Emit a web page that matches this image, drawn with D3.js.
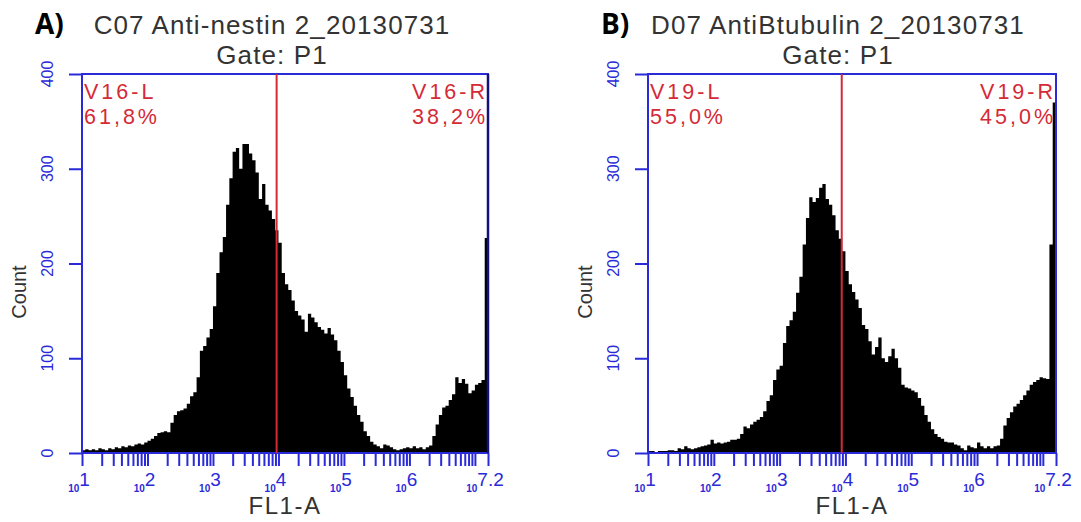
<!DOCTYPE html>
<html>
<head>
<meta charset="utf-8">
<script src="https://cdn.jsdelivr.net/npm/d3@7"></script>
<style>
  body { margin: 0; background: #fff; }
  svg { display: block; }
</style>
</head>
<body>
<svg id="chart" width="1081" height="522"></svg>
<script>
// ---- data ---------------------------------------------------------------
const panelKeys = ["A)", "B)"];
const sampleTitles = ["C07 Anti-nestin 2_20130731", "D07 AntiBtubulin 2_20130731"];
const gateTitle = "Gate: P1";
const gateNames = [["V16-L", "V16-R"], ["V19-L", "V19-R"]];
const gatePercents = [["61,8%", "38,2%"], ["55,0%", "45,0%"]];
const gateLog10 = [3.972, 3.944];          // divider position, log10(FL1-A)

// FL1-A histograms, 20 bins per decade from 10^1 to 10^7.2
const countsA = [
  3, 4, 3, 4, 3, 5, 4, 3, 5, 4,
  6, 5, 7, 6, 8, 7, 9, 10, 9, 11,
  13, 15, 18, 21, 22, 23, 22, 32, 40, 44,
  45, 47, 52, 60, 64, 80, 108, 113, 122, 131,
  155, 190, 212, 228, 262, 290, 318, 322, 300, 326,
  326, 316, 309, 296, 268, 284, 262, 256, 247, 235,
  222, 190, 178, 172, 161, 150, 145, 141, 128, 147,
  143, 138, 133, 130, 126, 132, 125, 119, 108, 96,
  82, 68, 59, 50, 40, 33, 23, 18, 12, 9,
  7, 5, 9, 8, 6, 4, 3, 4, 5, 6,
  5, 7, 5, 6, 4, 6, 8, 18, 30, 40,
  48, 50, 56, 62, 80, 74, 78, 73, 63, 66,
  72, 74, 77, 227
];
const countsB = [
  2, 2, 1, 2, 2, 2, 3, 3, 2, 5,
  4, 7, 5, 4, 5, 6, 7, 8, 9, 14,
  10, 11, 10, 11, 12, 14, 14, 15, 20, 28,
  26, 30, 33, 35, 38, 44, 55, 61, 77, 88,
  92, 116, 134, 140, 149, 169, 186, 220, 248, 270,
  265, 269, 280, 284, 268, 262, 251, 235, 226, 213,
  192, 178, 170, 162, 153, 135, 131, 118, 104, 112,
  122, 100, 96, 102, 110, 100, 90, 72, 69, 68,
  66, 64, 58, 50, 40, 33, 25, 20, 17, 15,
  12, 11, 11, 9, 8, 5, 3, 8, 6, 5,
  11, 7, 5, 7, 5, 7, 8, 15, 29, 37,
  43, 49, 52, 56, 61, 66, 72, 75, 77, 80,
  79, 78, 220, 370
];
const edgeCounts = [420, 0];               // off-scale events in the top channel

const logRange = [1, 7.2];
const binsPerDecade = 20;
const decadeExponents = ["1", "2", "3", "4", "5", "6", "7.2"];
const countTicks = [0, 100, 200, 300, 400];

// ---- layout -------------------------------------------------------------
const BLUE = "#2a2ad8";
const RED = "#d42a36";
const TEXT = "#333";
const FONT = "Liberation Sans, Arial, sans-serif";
const plotTop = 74, plotBottom = 453;
const plotLefts = [82, 648], plotRights = [488, 1056];
const countSeries = [countsA, countsB];

const svg = d3.select("#chart");
svg.append("rect").attr("width", 1081).attr("height", 522).attr("fill", "#fff");

panelKeys.forEach((key, p) => {
  const left = plotLefts[p], right = plotRights[p];
  const counts = countSeries[p];
  const g = svg.append("g");

  const x = d3.scaleLog()
    .domain([10 ** logRange[0], 10 ** logRange[1]])
    .range([left, right]);
  const y = d3.scaleLinear().domain([0, 400]).range([plotBottom, plotTop]);

  // histogram as a stepped area
  const pts = counts.map((c, i) => ({ v: 10 ** (logRange[0] + i / binsPerDecade), c }));
  pts.push({ v: 10 ** logRange[1], c: counts[counts.length - 1] });
  const area = d3.area()
    .x(d => x(d.v))
    .y0(y(0))
    .y1(d => y(Math.min(d.c, 400)))
    .curve(d3.curveStepAfter);
  g.append("path").datum(pts).attr("d", area).attr("fill", "#000");

  // frame
  g.append("rect")
    .attr("x", left).attr("y", plotTop)
    .attr("width", right - left).attr("height", plotBottom - plotTop)
    .attr("fill", "none").attr("stroke", BLUE).attr("stroke-width", 2);
  if (edgeCounts[p] > 0) {
    g.append("line")
      .attr("x1", right).attr("x2", right)
      .attr("y1", y(0)).attr("y2", y(Math.min(edgeCounts[p], 400)))
      .attr("stroke", "#12127a").attr("stroke-width", 2.5);
  }

  // x axis ticks: decades, intermediate 2..9 multiples, and the range end
  const tickVals = [];
  for (let d = 1; d <= 7; d++) {
    tickVals.push(10 ** d);
    if (d < 7) for (let k = 2; k <= 9; k++) tickVals.push(k * 10 ** d);
  }
  tickVals.push(10 ** logRange[1]);
  const xAxis = g.append("g")
    .attr("transform", `translate(0,${plotBottom})`)
    .call(d3.axisBottom(x).tickValues(tickVals).tickSize(13).tickFormat(""));
  xAxis.select(".domain").remove();
  xAxis.selectAll(".tick line").attr("stroke", BLUE).attr("stroke-width", 2);

  // x tick labels "10^n"
  decadeExponents.forEach(e => {
    const t = g.append("text")
      .attr("x", x(10 ** (+e)) - 3).attr("y", 492)
      .attr("text-anchor", "middle")
      .attr("fill", BLUE)
      .attr("font-family", FONT);
    t.append("tspan").attr("font-size", 10).attr("font-weight", "bold").text("10");
    t.append("tspan").attr("font-size", 19).attr("dy", -6).text(e);
  });

  // y axis ticks and rotated labels
  const yAxis = g.append("g")
    .attr("transform", `translate(${left},0)`)
    .call(d3.axisLeft(y).tickValues(countTicks).tickSize(13).tickFormat(""));
  yAxis.select(".domain").remove();
  yAxis.selectAll(".tick line").attr("stroke", BLUE).attr("stroke-width", 2);
  countTicks.forEach(v => {
    g.append("text")
      .attr("transform", `translate(${left - 29},${y(v)}) rotate(-90)`)
      .attr("text-anchor", "middle")
      .attr("fill", BLUE)
      .attr("font-family", FONT)
      .attr("font-size", 16)
      .text(v);
  });

  // gate divider
  const gx = x(10 ** gateLog10[p]);
  g.append("line")
    .attr("x1", gx).attr("x2", gx).attr("y1", plotTop).attr("y2", plotBottom)
    .attr("stroke", RED).attr("stroke-width", 2);

  // gate labels
  const lab = (tx, ty, anchor, s) => g.append("text")
    .attr("x", tx).attr("y", ty)
    .attr("text-anchor", anchor)
    .attr("fill", RED)
    .attr("font-family", FONT)
    .attr("font-size", 21.5)
    .attr("letter-spacing", 3)
    .text(s);
  lab(left + 2, 99, "start", gateNames[p][0]);
  lab(left + 2, 124, "start", gatePercents[p][0]);
  lab(right, 99, "end", gateNames[p][1]);
  lab(right, 124, "end", gatePercents[p][1]);

  // axis titles
  g.append("text")
    .attr("x", (left + right) / 2).attr("y", 514)
    .attr("text-anchor", "middle")
    .attr("fill", TEXT)
    .attr("font-family", FONT)
    .attr("font-size", 24).attr("letter-spacing", 1.5)
    .text("FL1-A");
  g.append("text")
    .attr("transform", `translate(${left - 56},292) rotate(-90)`)
    .attr("text-anchor", "middle")
    .attr("fill", TEXT)
    .attr("font-family", FONT)
    .attr("font-size", 20)
    .text("Count");

  // panel titles
  g.append("text")
    .attr("x", left + 190).attr("y", 34)
    .attr("text-anchor", "middle")
    .attr("fill", TEXT)
    .attr("font-family", FONT)
    .attr("font-size", 26).attr("letter-spacing", 1.1)
    .text(sampleTitles[p]);
  g.append("text")
    .attr("x", left + 190).attr("y", 64)
    .attr("text-anchor", "middle")
    .attr("fill", TEXT)
    .attr("font-family", FONT)
    .attr("font-size", 26).attr("letter-spacing", 1.1)
    .text(gateTitle);
  g.append("text")
    .attr("x", left - 47).attr("y", 34)
    .attr("fill", "#000")
    .attr("font-family", "Open Sans, sans-serif")
    .attr("font-weight", "bold")
    .attr("font-size", 28)
    .text(key);
});
</script>
</body>
</html>
